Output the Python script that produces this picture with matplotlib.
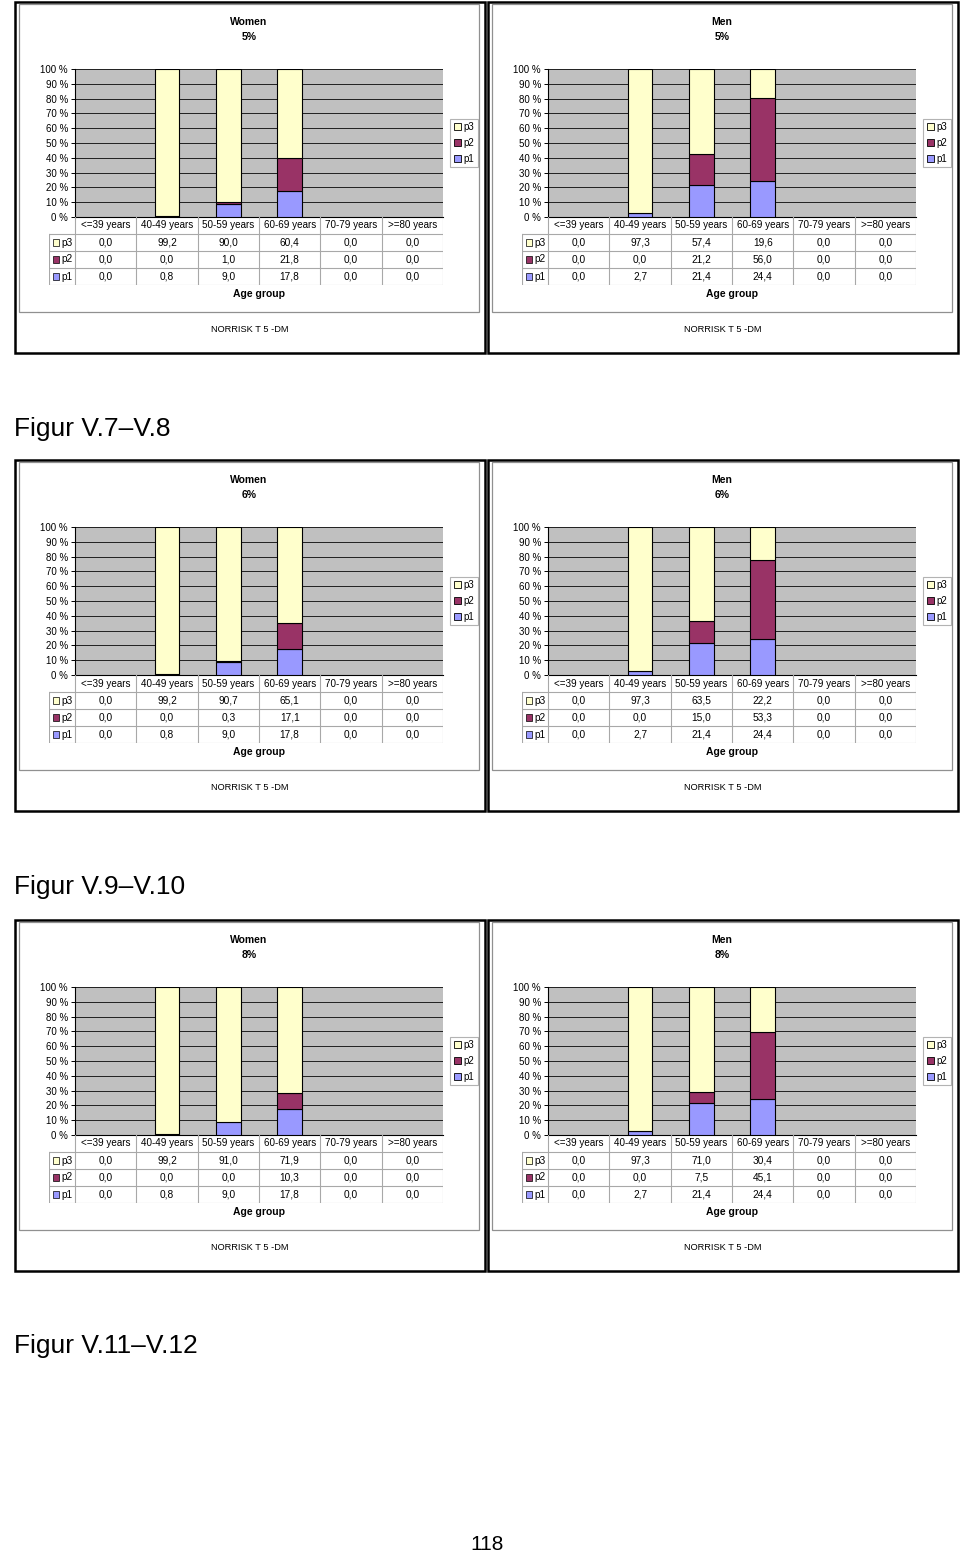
import numpy as np
import matplotlib
matplotlib.use("Agg")
import matplotlib.pyplot as plt
from matplotlib.patches import Rectangle, Patch

plt.rcParams['font.family'] = ['Liberation Sans', 'DejaVu Sans']

age_groups = ["<=39 years", "40-49 years", "50-59 years", "60-69 years", "70-79 years", ">=80 years"]
series_names = ["p3", "p2", "p1"]

women5_p3 = [0.0, 99.2, 90.0, 60.4, 0.0, 0.0]
women5_p2 = [0.0, 0.0, 1.0, 21.8, 0.0, 0.0]
women5_p1 = [0.0, 0.8, 9.0, 17.8, 0.0, 0.0]
men5_p3 = [0.0, 97.3, 57.4, 19.6, 0.0, 0.0]
men5_p2 = [0.0, 0.0, 21.2, 56.0, 0.0, 0.0]
men5_p1 = [0.0, 2.7, 21.4, 24.4, 0.0, 0.0]

women6_p3 = [0.0, 99.2, 90.7, 65.1, 0.0, 0.0]
women6_p2 = [0.0, 0.0, 0.3, 17.1, 0.0, 0.0]
women6_p1 = [0.0, 0.8, 9.0, 17.8, 0.0, 0.0]
men6_p3 = [0.0, 97.3, 63.5, 22.2, 0.0, 0.0]
men6_p2 = [0.0, 0.0, 15.0, 53.3, 0.0, 0.0]
men6_p1 = [0.0, 2.7, 21.4, 24.4, 0.0, 0.0]

women8_p3 = [0.0, 99.2, 91.0, 71.9, 0.0, 0.0]
women8_p2 = [0.0, 0.0, 0.0, 10.3, 0.0, 0.0]
women8_p1 = [0.0, 0.8, 9.0, 17.8, 0.0, 0.0]
men8_p3 = [0.0, 97.3, 71.0, 30.4, 0.0, 0.0]
men8_p2 = [0.0, 0.0, 7.5, 45.1, 0.0, 0.0]
men8_p1 = [0.0, 2.7, 21.4, 24.4, 0.0, 0.0]

figure_captions = ["Figur V.7\u2013V.8", "Figur V.9\u2013V.10", "Figur V.11\u2013V.12"]
page_number = "118"

colors = {"p3": "#FFFFCC", "p2": "#993366", "p1": "#9999FF"}

W, H = 960, 1553
fig = plt.figure(figsize=(W / 100, H / 100), dpi=100)


def rect(x, y, w, h):
    # pixel box (top-left origin) -> figure fraction
    return [x / W, 1 - (y + h) / H, w / W, h / H]


def ftext(x, y, s, **kw):
    fig.text(x / W, 1 - y / H, s, **kw)


def frame(x, y, w, h, **kw):
    fig.patches.append(Rectangle((x / W, 1 - (y + h) / H), w / W, h / H,
                                 transform=fig.transFigure, fill=False, **kw))


def fmt(v):
    return f"{v:.1f}".replace(".", ",")


def panel(ox, oy, title, pct, p3, p2, p1):
    frame(ox + 15, oy + 2, 470, 351, lw=1.8, ec="black")
    frame(ox + 19, oy + 4, 460, 308, lw=0.9, ec="#909090")
    ftext(ox + 249, oy + 22, title, ha="center", va="center", fontsize=7.5, weight="bold")
    ftext(ox + 249, oy + 37, pct, ha="center", va="center", fontsize=7.5, weight="bold")

    vals = {"p3": np.array(p3), "p2": np.array(p2), "p1": np.array(p1)}
    total = vals["p1"] + vals["p2"] + vals["p3"]
    x = np.arange(len(age_groups))

    ax = fig.add_axes(rect(ox + 75, oy + 69, 368, 148))
    ax.set_facecolor("#C0C0C0")
    bottom = np.zeros(len(age_groups))
    for name in ["p1", "p2", "p3"]:
        share = np.where(total > 0, vals[name] / np.where(total > 0, total, 1) * 100, 0)
        for i in range(len(x)):
            if share[i] > 0:
                ax.bar(x[i], share[i], bottom=bottom[i], width=0.4,
                       color=colors[name], edgecolor="black", lw=0.8, zorder=3)
        bottom += share
    ax.set_xlim(-0.5, len(age_groups) - 0.5)
    ax.set_ylim(0, 100)
    ax.set_yticks(np.arange(0, 101, 10))
    ax.set_yticklabels([f"{t} %" for t in range(0, 101, 10)], fontsize=7)
    ax.yaxis.grid(True, color="#202020", lw=0.7, zorder=1)
    ax.set_axisbelow(True)
    ax.set_xticks([])
    ax.tick_params(axis="y", length=3, width=0.7, pad=2)
    for s in ["top", "right"]:
        ax.spines[s].set_visible(False)
    ax.spines["left"].set_linewidth(0.8)
    ax.spines["bottom"].set_linewidth(0.8)

    handles = [Patch(facecolor=colors[n], edgecolor="black", lw=0.6, label=n) for n in series_names]
    leg = ax.legend(handles=handles, loc="center left", bbox_to_anchor=(1.02, 0.5),
                    fontsize=7, frameon=True, fancybox=False, handlelength=0.7,
                    handleheight=0.7, handletextpad=0.3, borderpad=0.35,
                    labelspacing=0.6, borderaxespad=0)
    leg.get_frame().set_edgecolor("#A0A0A0")
    leg.get_frame().set_linewidth(0.8)

    # data table under the bars
    key_w = 26 / (368 / 6)
    tb = fig.add_axes(rect(ox + 49, oy + 217, 394, 68))
    tb.set_xlim(-0.5 - key_w, len(age_groups) - 0.5)
    tb.set_ylim(4, 0)
    tb.axis("off")
    lc = "#A8A8A8"
    for i, g in enumerate(age_groups):
        tb.text(i, 0.5, g, ha="center", va="center", fontsize=7.1)
    for r, name in enumerate(series_names):
        for i in range(len(age_groups)):
            tb.text(i, r + 1.5, fmt(vals[name][i]), ha="center", va="center", fontsize=7.3)
        tb.add_patch(Rectangle((-0.5 - key_w + 0.07, r + 1.5 - 0.22), 0.09, 0.44,
                               facecolor=colors[name], edgecolor="black", lw=0.5))
        tb.text(-0.5 - key_w + 0.2, r + 1.5, name, ha="left", va="center", fontsize=7.3)
    for yy in [1, 2, 3, 4]:
        tb.plot([-0.5 - key_w, len(age_groups) - 0.5], [yy, yy], color=lc, lw=0.8)
    for xx in np.arange(-0.5, len(age_groups), 1.0):
        tb.plot([xx, xx], [0, 4], color=lc, lw=0.8)
    tb.plot([-0.5 - key_w, -0.5 - key_w], [1, 4], color=lc, lw=0.8)

    ftext(ox + 259, oy + 294, "Age group", ha="center", va="center", fontsize=7.5, weight="bold")
    ftext(ox + 250, oy + 329, "NORRISK T 5 -DM", ha="center", va="center", fontsize=6.7)


rows = [
    (0, "5%", (women5_p3, women5_p2, women5_p1), (men5_p3, men5_p2, men5_p1)),
    (458, "6%", (women6_p3, women6_p2, women6_p1), (men6_p3, men6_p2, men6_p1)),
    (918, "8%", (women8_p3, women8_p2, women8_p1), (men8_p3, men8_p2, men8_p1)),
]
for oy, pct, women, men in rows:
    panel(0, oy, "Women", pct, *women)
    panel(473, oy, "Men", pct, *men)

for oy, cap in zip([429, 887, 1346], figure_captions):
    ftext(14, oy, cap, ha="left", va="center", fontsize=19,
          family=["Liberation Sans Narrow", "Liberation Sans"])
ftext(487, 1544, page_number, ha="center", va="center", fontsize=15,
      family=["Liberation Sans Narrow", "Liberation Sans"])

fig.savefig("out.png", dpi=100)
